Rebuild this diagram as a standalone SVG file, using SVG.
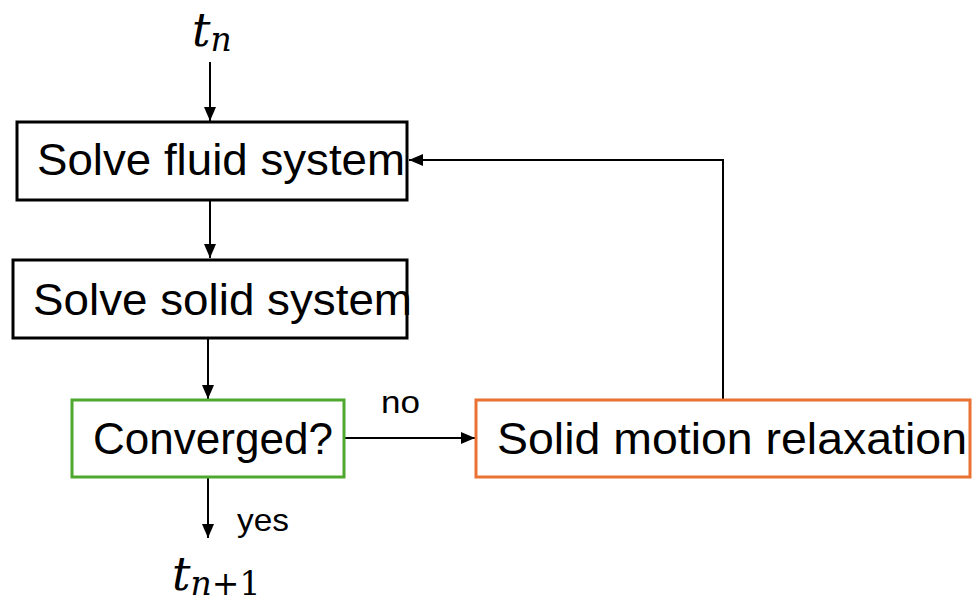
<svg xmlns="http://www.w3.org/2000/svg" width="972" height="606" viewBox="0 0 972 606">
<style>
.box{fill:#fff;stroke-width:3}
.lbl{font-family:"Liberation Sans",Arial,sans-serif;font-size:44px;fill:#000}
.sm{font-family:"Liberation Sans",Arial,sans-serif;font-size:32px;fill:#000}
.math{font-family:"DejaVu Serif","Liberation Serif",serif;font-style:italic;fill:#000}
.up{font-style:normal}
.ln{fill:none;stroke:#000;stroke-width:2}
</style>
<defs>
<marker id="ah" markerWidth="14" markerHeight="12" refX="14" refY="6" orient="auto" markerUnits="userSpaceOnUse">
<path d="M0,0 L14,6 L0,12 Z" fill="#000"/>
</marker>
</defs>
<g id="connectors">
<line class="ln" x1="210" y1="62" x2="210" y2="121" marker-end="url(#ah)"/>
<line class="ln" x1="210" y1="201" x2="210" y2="258" marker-end="url(#ah)"/>
<line class="ln" x1="208" y1="339" x2="208" y2="399" marker-end="url(#ah)"/>
<line class="ln" x1="208" y1="478" x2="208" y2="538" marker-end="url(#ah)"/>
<line class="ln" x1="345" y1="438" x2="475" y2="438" marker-end="url(#ah)"/>
<polyline class="ln" points="723,399 723,160 409,160" marker-end="url(#ah)"/>
<text class="sm" x="381" y="413" textLength="39" lengthAdjust="spacingAndGlyphs">no</text>
<text class="sm" x="237" y="531" textLength="52" lengthAdjust="spacingAndGlyphs">yes</text>
</g>
<g id="tn">
<text class="math" x="192" y="46" font-size="46">t<tspan font-size="33" dy="5">n</tspan></text>
</g>
<g id="fluid">
<rect class="box" x="17" y="122" width="390" height="78" stroke="#000"/>
<text class="lbl" x="37" y="175" textLength="368" lengthAdjust="spacingAndGlyphs">Solve fluid system</text>
</g>
<g id="solid">
<rect class="box" x="13" y="260" width="394" height="78" stroke="#000"/>
<text class="lbl" x="33" y="315" textLength="379" lengthAdjust="spacingAndGlyphs">Solve solid system</text>
</g>
<g id="converged">
<rect class="box" x="72" y="400" width="272" height="77" stroke="#4ea72e"/>
<text class="lbl" x="93" y="454" textLength="240" lengthAdjust="spacingAndGlyphs">Converged?</text>
</g>
<g id="relax">
<rect class="box" x="476" y="400" width="494" height="77" stroke="#e97132"/>
<text class="lbl" x="497" y="454" textLength="470" lengthAdjust="spacingAndGlyphs">Solid motion relaxation</text>
</g>
<g id="tn1">
<text class="math" x="172" y="590" font-size="46">t<tspan font-size="33" dy="5">n</tspan><tspan class="up" font-size="33">+1</tspan></text>
</g>
</svg>
